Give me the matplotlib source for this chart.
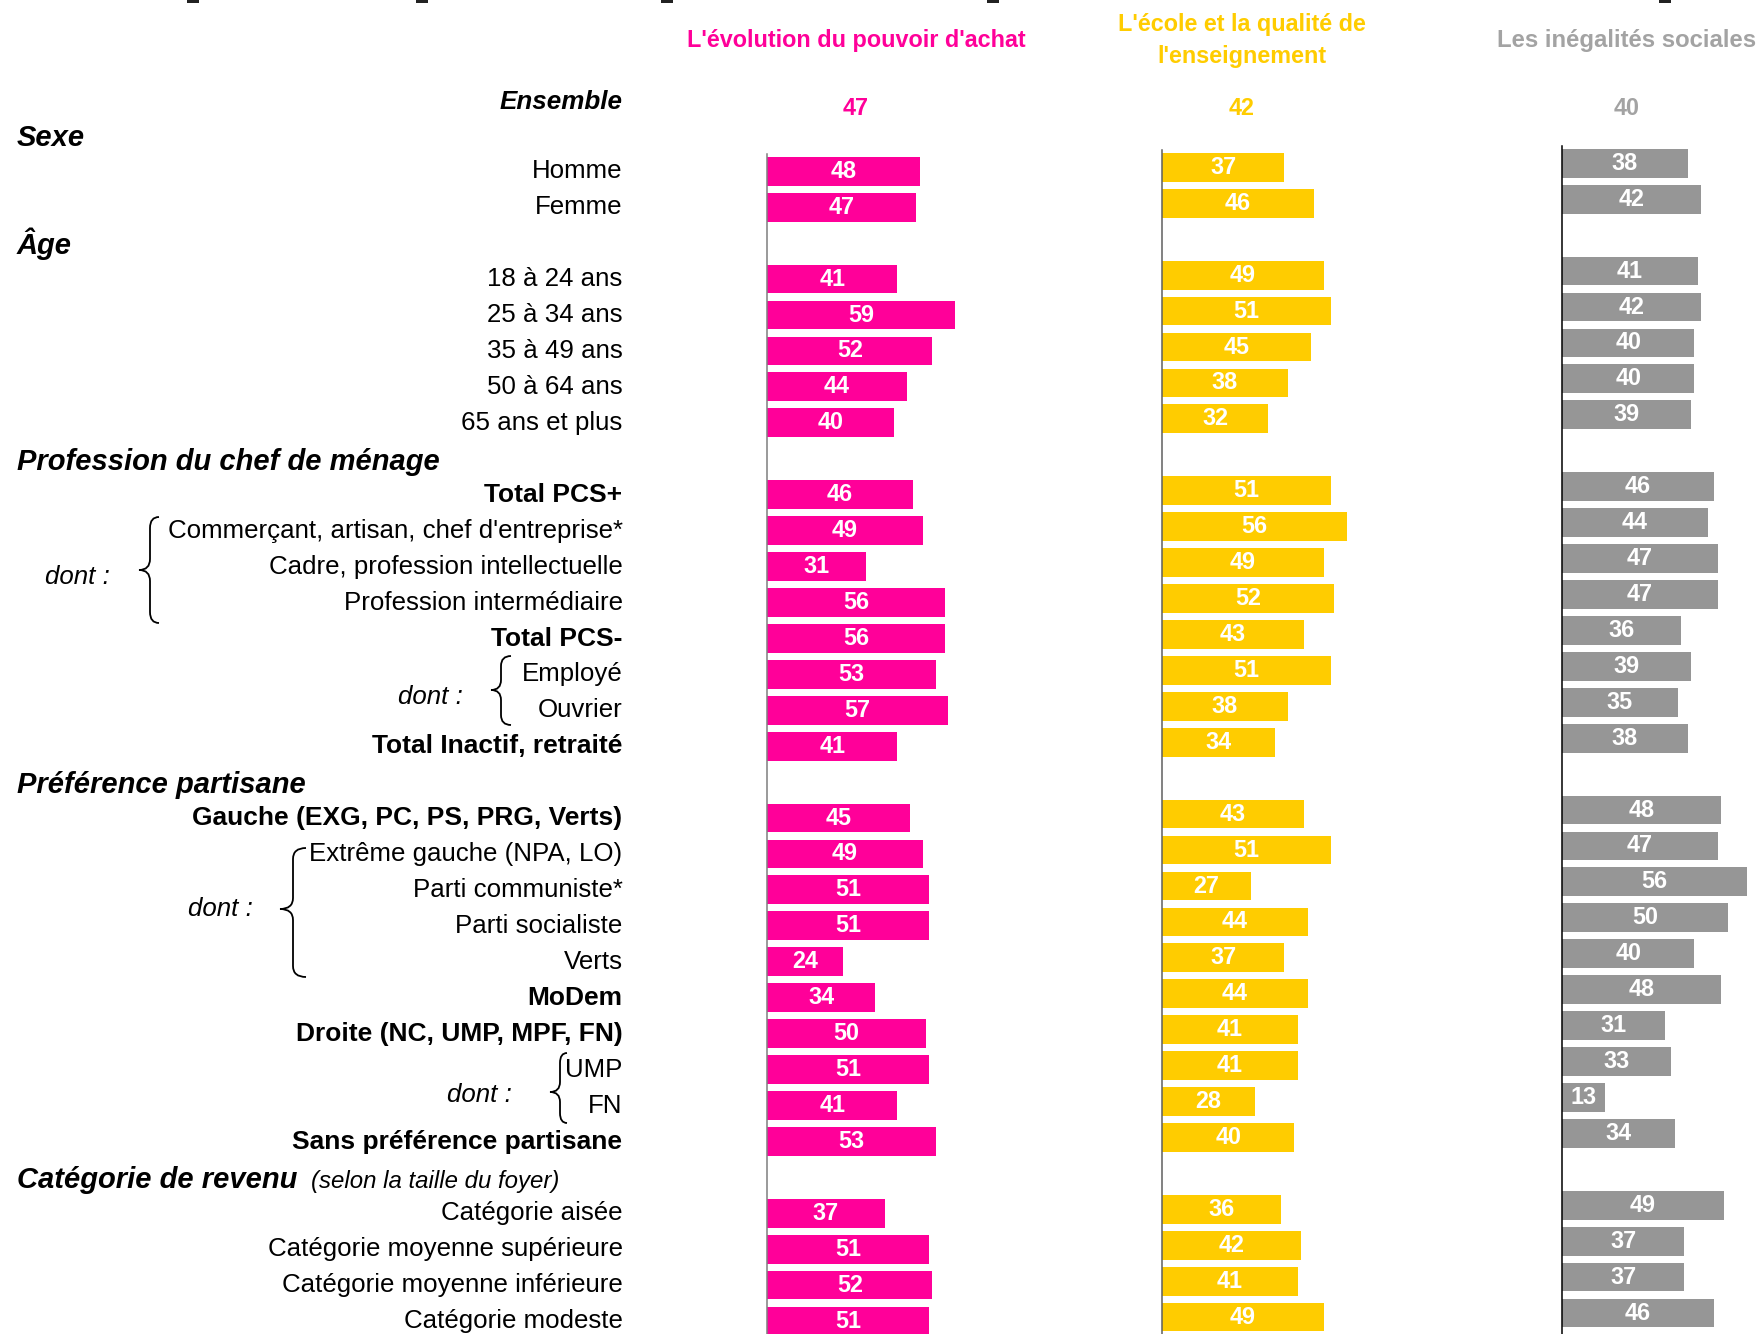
import matplotlib
matplotlib.use("Agg")
import matplotlib.pyplot as plt
from matplotlib.path import Path
from matplotlib.patches import PathPatch, Rectangle

plt.rcParams['font.family'] = ['Liberation Sans', 'DejaVu Sans']

# ---------------- data ----------------
series_titles = ["L'évolution du pouvoir d'achat",
                 "L'école et la qualité de\nl'enseignement",
                 "Les inégalités sociales"]
ensemble = [47, 42, 40]

groups = ["Sexe", "Âge", "Profession du chef de ménage",
          "Préférence partisane", "Catégorie de revenu"]
group_sizes = [2, 5, 8, 10, 4]

categories = [
    "Homme", "Femme",
    "18 à 24 ans", "25 à 34 ans", "35 à 49 ans", "50 à 64 ans", "65 ans et plus",
    "Total PCS+", "Commerçant, artisan, chef d'entreprise*",
    "Cadre, profession intellectuelle", "Profession intermédiaire",
    "Total PCS-", "Employé", "Ouvrier", "Total Inactif, retraité",
    "Gauche (EXG, PC, PS, PRG, Verts)", "Extrême gauche (NPA, LO)",
    "Parti communiste*", "Parti socialiste", "Verts", "MoDem",
    "Droite (NC, UMP, MPF, FN)", "UMP", "FN", "Sans préférence partisane",
    "Catégorie aisée", "Catégorie moyenne supérieure",
    "Catégorie moyenne inférieure", "Catégorie modeste",
]
bold_categories = ["Total PCS+", "Total PCS-", "Total Inactif, retraité",
                   "Gauche (EXG, PC, PS, PRG, Verts)", "MoDem",
                   "Droite (NC, UMP, MPF, FN)", "Sans préférence partisane"]

pouvoir_achat = [48, 47,
                 41, 59, 52, 44, 40,
                 46, 49, 31, 56, 56, 53, 57, 41,
                 45, 49, 51, 51, 24, 34, 50, 51, 41, 53,
                 37, 51, 52, 51]
ecole = [37, 46,
         49, 51, 45, 38, 32,
         51, 56, 49, 52, 43, 51, 38, 34,
         43, 51, 27, 44, 37, 44, 41, 41, 28, 40,
         36, 42, 41, 49]
inegalites = [38, 42,
              41, 42, 40, 40, 39,
              46, 44, 47, 47, 36, 39, 35, 38,
              48, 47, 56, 50, 40, 48, 31, 33, 13, 34,
              49, 37, 37, 46]

# ---------------- layout ----------------
W, H = 1760, 1334
DPI = 100
B = 35.93          # row pitch in px
A_LAB = 97.3       # label row-0 center
PX = 72.0 / DPI    # px -> pt

PINK, YELLOW, GREY = '#FF0099', '#FFCC00', '#969696'
title_colors = [PINK, YELLOW, '#A3A3A3']

# row indices
header_rows = []
cat_rows = []
r = 1
for g, n in zip(groups, group_sizes):
    header_rows.append(r)
    r += 1
    for _ in range(n):
        cat_rows.append(r)
        r += 1

fig = plt.figure(figsize=(W / DPI, H / DPI), dpi=DPI)

ov = fig.add_axes([0, 0, 1, 1])
ov.set_xlim(0, W)
ov.set_ylim(H, 0)
ov.axis('off')


def ylab(row):
    return A_LAB + B * row


LAB_FS = 18.6
BOLD_FS = 19.0
HEAD_FS = 21.0
VAL_FS = 16.8
TITLE_FS = 16.8
LAB_X = 622.5


def cap(fs):
    return 0.716 * fs / PX


# marks at the top edge
for x0 in [187, 416, 661, 987, 1659]:
    ov.add_patch(Rectangle((x0, 0), 12, 2.5, color='#222222', lw=0))

# titles
title_x = [856, 1242, 1627]
for t, c, x in zip(series_titles, title_colors, title_x):
    if '\n' in t:
        l1, l2 = t.split('\n')
        ov.text(x, 23 + cap(TITLE_FS) / 2, l1, ha='center', va='baseline',
                color=c, fontsize=TITLE_FS, fontweight='bold')
        ov.text(x, 55 + cap(TITLE_FS) / 2, l2, ha='center', va='baseline',
                color=c, fontsize=TITLE_FS, fontweight='bold')
    else:
        fs = TITLE_FS + (0.4 if c == '#A3A3A3' else 0)
        ov.text(x, 39 + cap(TITLE_FS) / 2, t, ha='center', va='baseline',
                color=c, fontsize=fs, fontweight='bold')

# Ensemble row
ov.text(LAB_X, ylab(0) + 2.5 + cap(LAB_FS) / 2, "Ensemble", ha='right', va='baseline',
        fontsize=18.7, fontweight='bold', fontstyle='italic')
for v, c, x in zip(ensemble, title_colors, title_x):
    ov.text(x, 107 + cap(TITLE_FS) / 2, str(v), ha='center', va='baseline',
            color=c, fontsize=TITLE_FS, fontweight='bold')

# group headers
for g, row in zip(groups, header_rows):
    ov.text(17, ylab(row) + 2.5 + cap(HEAD_FS) / 2, g, ha='left', va='baseline',
            fontsize=HEAD_FS, fontweight='bold', fontstyle='italic')
ov.text(311, ylab(header_rows[-1]) + 2.5 + cap(HEAD_FS) / 2, "(selon la taille du foyer)",
        ha='left', va='baseline', fontsize=17.3, fontstyle='italic')

# category labels
for lab, row in zip(categories, cat_rows):
    isb = lab in bold_categories
    fs = BOLD_FS if isb else LAB_FS
    ov.text(LAB_X, ylab(row) + cap(fs) / 2, lab, ha='right', va='baseline',
            fontsize=fs, fontweight='bold' if isb else 'normal')


# braces
def brace(x0, x1, x2, yt, ym, yb, r=11):
    verts = [(x2, yt), (x1, yt), (x1, yt + r),
             (x1, ym - r), (x1, ym), (x0, ym),
             (x1, ym), (x1, ym + r),
             (x1, yb - r), (x1, yb), (x2, yb)]
    codes = [Path.MOVETO, Path.CURVE3, Path.CURVE3,
             Path.LINETO, Path.CURVE3, Path.CURVE3,
             Path.CURVE3, Path.CURVE3,
             Path.LINETO, Path.CURVE3, Path.CURVE3]
    ov.add_patch(PathPatch(Path(verts, codes), fill=False, lw=1.3, ec='black'))


brace(139, 150, 159, 517, 570, 623)
brace(491, 501, 511, 656, 690, 725, r=10)
brace(280, 293, 306, 848, 909, 977)
brace(550, 560, 567, 1053, 1092, 1123, r=10)

for x, y in [(45, 575), (398, 695), (188, 907), (447, 1093)]:
    ov.text(x, y + cap(LAB_FS) / 2, "dont :", ha='left', va='baseline',
            fontsize=LAB_FS, fontstyle='italic')

# bar columns
col_specs = [
    dict(values=pouvoir_achat, color=PINK, left=767, ppu=3.18, width=385,
         A=99.4, spine='#7f7f7f', top=154),
    dict(values=ecole, color=YELLOW, left=1162, ppu=3.31, width=390,
         A=95.5, spine='#5f5f5f', top=150),
    dict(values=inegalites, color=GREY, left=1562, ppu=3.31, width=198,
         A=91.4, spine='#000000', top=146),
]

for spec in col_specs:
    A = spec['A']
    ax = fig.add_axes([spec['left'] / W, 0, spec['width'] / W, 1])
    ax.set_xlim(0, spec['width'] / spec['ppu'])
    ax.set_ylim((H - A) / B, -A / B)
    ax.patch.set_alpha(0)
    ax.barh(cat_rows, spec['values'], height=0.8, color=spec['color'], lw=0)
    off = (cap(VAL_FS) / 2 - 1.8) / B
    for row, v in zip(cat_rows, spec['values']):
        ax.text(v / 2, row + off, str(v), ha='center', va='baseline',
                color='white', fontsize=VAL_FS, fontweight='bold')
    for s in ['top', 'right', 'bottom']:
        ax.spines[s].set_visible(False)
    ax.spines['left'].set_color(spec['spine'])
    ax.spines['left'].set_linewidth(1.1)
    ax.spines['left'].set_bounds((spec['top'] - A) / B, (H - A) / B)
    ax.set_xticks([])
    ax.set_yticks([])

fig.savefig('out.png', dpi=DPI)
